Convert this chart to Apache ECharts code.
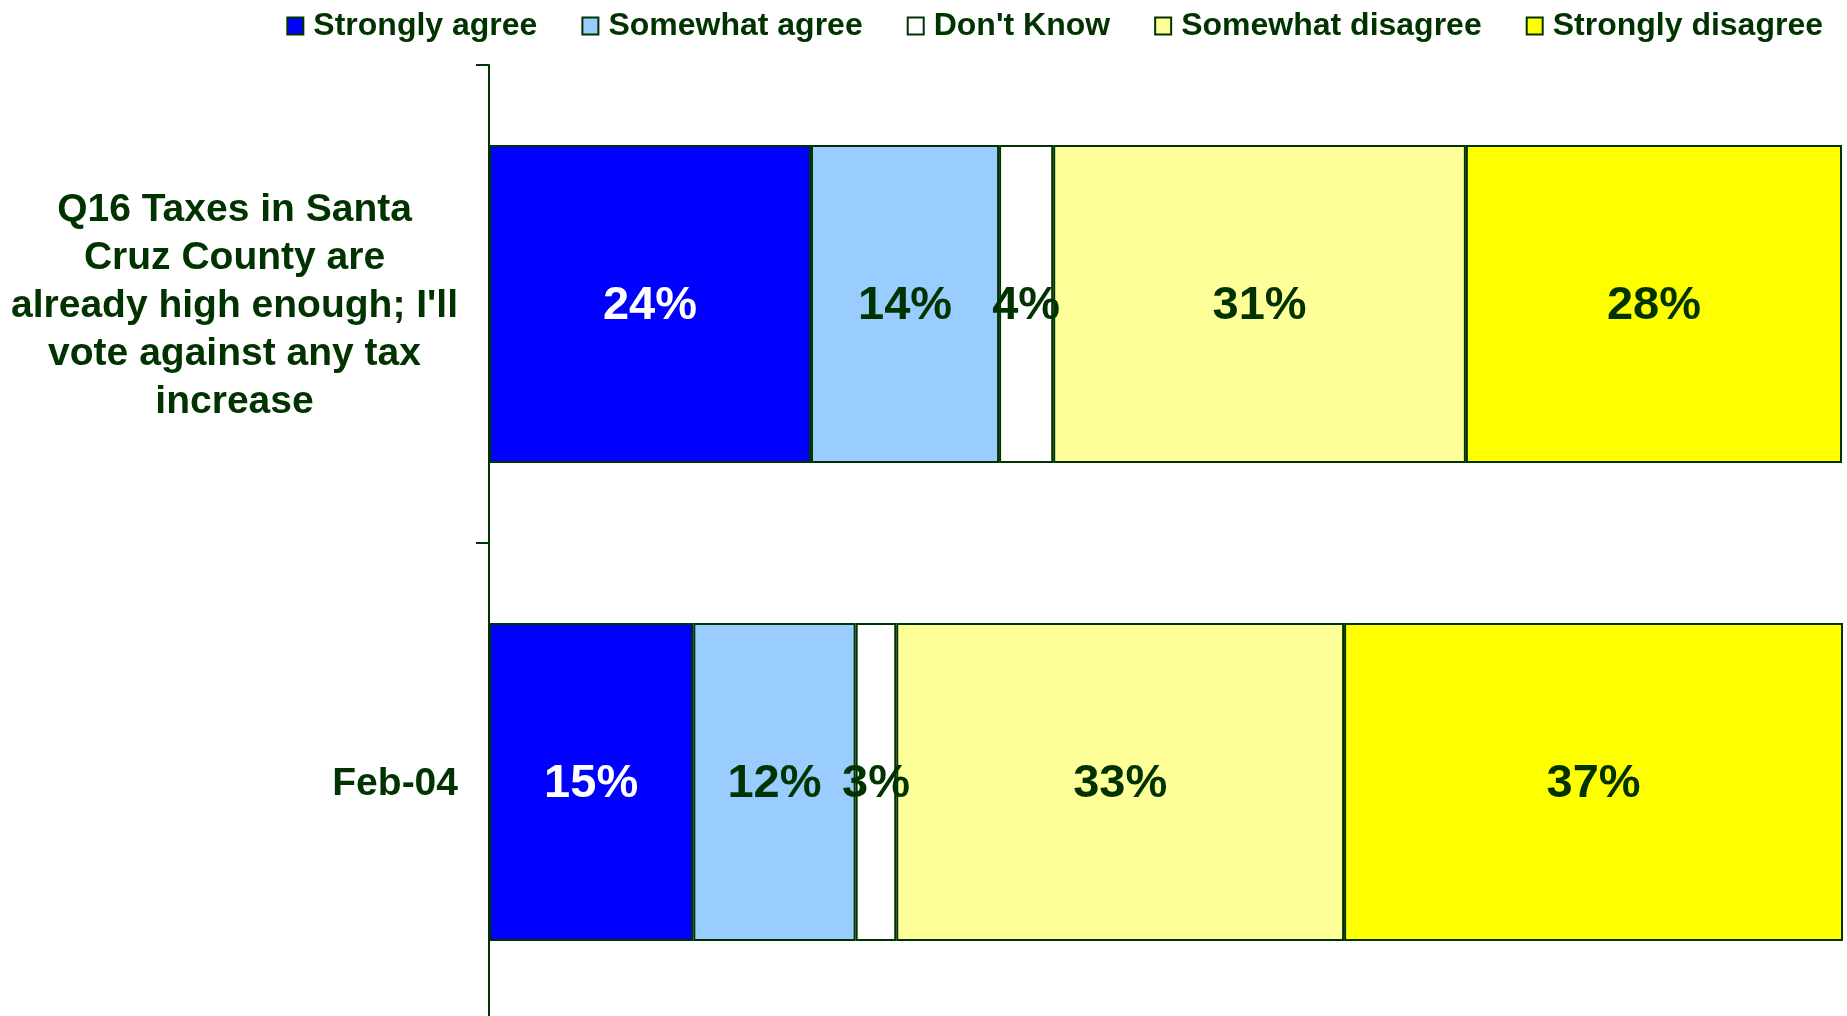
<!DOCTYPE html>
<html>
<head>
<meta charset="utf-8">
<script src="https://cdn.jsdelivr.net/npm/echarts@6/dist/echarts.min.js"></script>
<style>
html,body{margin:0;padding:0;background:#fff;}
#chart{width:1847px;height:1016px;}
</style>
</head>
<body>
<div id="chart"></div>
<script>
const categories = ["Q16 Taxes in Santa\nCruz County are\nalready high enough; I'll\nvote against any tax\nincrease", "Feb-04"];
const seriesNames = ["Strongly agree", "Somewhat agree", "Don't Know", "Somewhat disagree", "Strongly disagree"];
const stronglyAgree = [23.8, 15.1];
const somewhatAgree = [13.9, 12.0];
const dontKnow = [4.0, 3.0];
const somewhatDisagree = [30.5, 33.1];
const stronglyDisagree = [27.8, 36.9];

const DARK = '#003300';
const colors = ['#0000FF', '#99CCFF', '#FFFFFF', '#FFFF99', '#FFFF00'];
const labelColors = ['#FFFFFF', DARK, DARK, DARK, DARK];
const values = [stronglyAgree, somewhatAgree, dontKnow, somewhatDisagree, stronglyDisagree];
const FONT = '"Liberation Sans", Arial, sans-serif';

const chart = echarts.init(document.getElementById('chart'));
chart.setOption({
  animation: false,
  backgroundColor: '#ffffff',
  legend: {
    right: 19,
    top: 5,
    itemWidth: 16,
    itemHeight: 17,
    itemGap: 44,
    icon: 'rect',
    textStyle: {
      fontFamily: FONT,
      fontWeight: 'bold',
      fontSize: 32,
      color: DARK,
      padding: [0, 0, 0, 5]
    },
    data: seriesNames
  },
  grid: { left: 489, width: 1353, top: 65, height: 956, containLabel: false, outerBoundsMode: 'none' },
  xAxis: { type: 'value', min: 0, max: 100, show: false },
  yAxis: {
    type: 'category',
    inverse: true,
    data: categories,
    axisLine: { show: true, lineStyle: { color: DARK, width: 2 } },
    axisTick: { show: true, length: 13, lineStyle: { color: DARK, width: 2 } },
    axisLabel: {
      margin: 31,
      align: 'right',
      padding: [5, 0, 0, 0],
      formatter: function (v) {
        return v.split('\n').map(function (l) { return '{c|' + l + '}'; }).join('\n');
      },
      rich: {
        c: {
          align: 'center',
          fontFamily: FONT,
          fontWeight: 'bold',
          fontSize: 39,
          lineHeight: 48,
          color: DARK
        }
      }
    }
  },
  series: seriesNames.map(function (name, i) {
    return {
      name: name,
      type: 'bar',
      stack: 'total',
      barWidth: '66.5%',
      data: values[i],
      itemStyle: { color: colors[i], borderColor: DARK, borderWidth: 2 },
      label: {
        show: true,
        position: 'inside',
        offset: [0, 2],
        formatter: function (p) { return Math.round(p.value) + '%'; },
        fontFamily: FONT,
        fontWeight: 'bold',
        fontSize: 47,
        color: labelColors[i]
      }
    };
  })
});
</script>
</body>
</html>
